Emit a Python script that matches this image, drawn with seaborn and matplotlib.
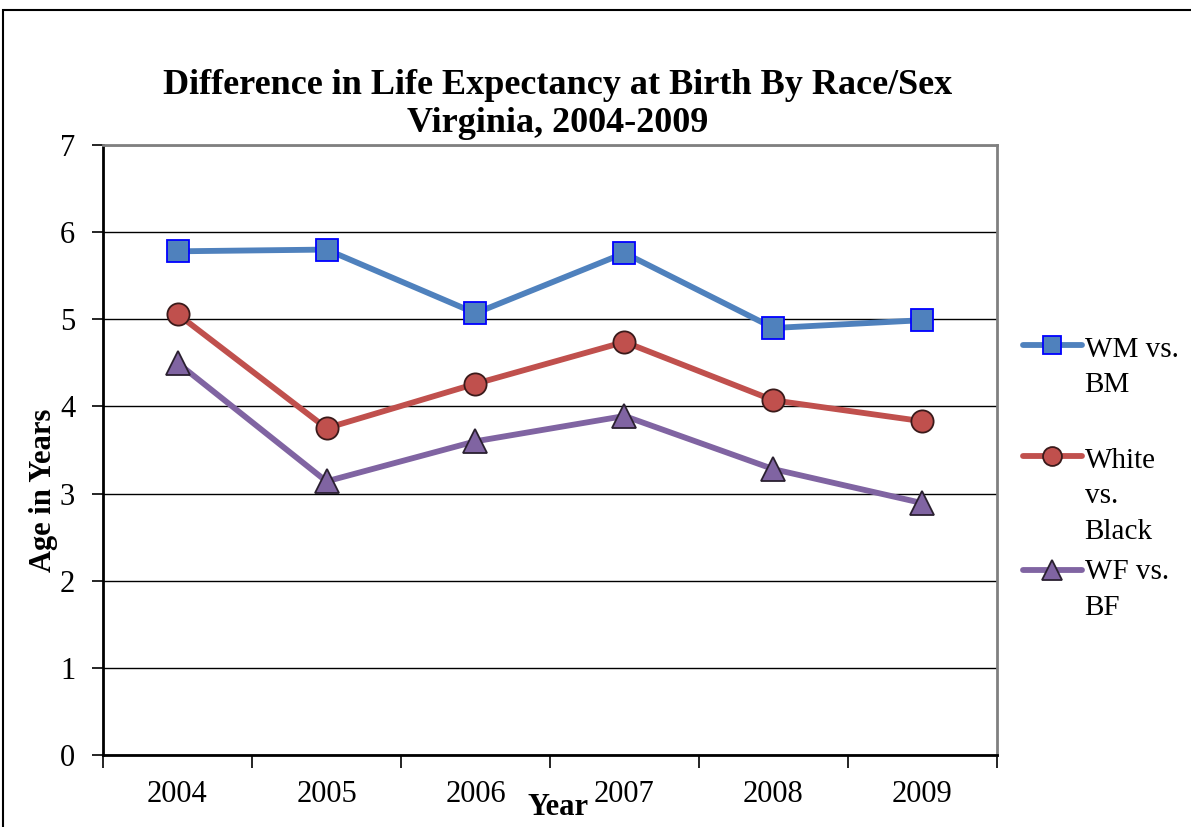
import pandas as pd
import seaborn as sns
import matplotlib.pyplot as plt
from matplotlib.legend_handler import HandlerLine2D

# values
years = ["2004", "2005", "2006", "2007", "2008", "2009"]
wm_bm = [5.78, 5.80, 5.07, 5.76, 4.90, 4.99]
white_black = [5.06, 3.75, 4.26, 4.74, 4.07, 3.83]
wf_bf = [4.50, 3.14, 3.60, 3.89, 3.28, 2.89]
series_names = ["WM vs.\nBM", "White\nvs.\nBlack", "WF vs.\nBF"]

df = pd.DataFrame({
    "pos": list(range(len(years))) * 3,
    "value": wm_bm + white_black + wf_bf,
    "series": [s for s in series_names for _ in years],
})

sns.set_style("white")
plt.rcParams["font.family"] = ["Liberation Serif", "DejaVu Serif"]
plt.rcParams["text.color"] = "black"
plt.rcParams["axes.labelcolor"] = "black"
plt.rcParams["xtick.color"] = "black"
plt.rcParams["ytick.color"] = "black"


class TopHandler(HandlerLine2D):
    # put the legend line next to the first line of a multi-line label
    def __init__(self, shift, **kw):
        super().__init__(**kw)
        self.shift = shift

    def create_artists(self, legend, orig_handle, xdescent, ydescent, width, height, fontsize, trans):
        return super().create_artists(legend, orig_handle, xdescent,
                                      ydescent - 2 * self.shift * fontsize,
                                      width, height, fontsize, trans)


fig = plt.figure(figsize=(11.91, 8.27), dpi=100)
ax = fig.add_axes([103 / 1191, 1 - 755 / 827, (997 - 103) / 1191, (755 - 145) / 827])

colors = ["#4F81BD", "#C0504D", "#8064A2"]
markers = ["s", "o", "^"]
edges = ["#0000FF", "#3a1a1a", "#2a2030"]
msizes = [16, 16, 17]

for name, c, m, e, ms in zip(series_names, colors, markers, edges, msizes):
    sub = df[df["series"] == name]
    sns.lineplot(data=sub, x="pos", y="value", ax=ax, color=c, linewidth=4.2,
                 marker=m, markersize=ms, markerfacecolor=c,
                 markeredgecolor=e, markeredgewidth=1.3, label=name)

ax.set_xlim(-0.5, len(years) - 0.5)
ax.set_ylim(0, 7)
ax.set_yticks(range(0, 8))
ax.yaxis.grid(True, color="black", linewidth=1)
ax.set_axisbelow(True)

# boundary ticks, labels centered between them
ax.set_xticks([i - 0.5 for i in range(len(years) + 1)])
ax.set_xticklabels([])
ax.set_xticks(range(len(years)), minor=True)
ax.set_xticklabels(years, minor=True)
ax.tick_params(axis="x", which="major", length=9, width=1.2, direction="out")
ax.tick_params(axis="x", which="minor", length=0, pad=18, labelsize=22)
ax.tick_params(axis="y", length=8, width=1.2, direction="out", labelsize=22, pad=12)
ax.tick_params(axis="both", bottom=True, left=True)

for side in ["left", "bottom"]:
    ax.spines[side].set_color("black")
    ax.spines[side].set_linewidth(2)
for side in ["top", "right"]:
    ax.spines[side].set_color("#808080")
    ax.spines[side].set_linewidth(2)

ax.set_xlabel("Year", fontsize=22, fontweight="bold")
ax.xaxis.set_label_coords(0.509, -0.063)
ax.set_ylabel("Age in Years", fontsize=22, fontweight="bold")
ax.yaxis.set_label_coords(-0.05, 0.434)

fig.suptitle("Difference in Life Expectancy at Birth By Race/Sex\nVirginia, 2004-2009",
             x=558 / 1191, y=1 - 69 / 827, fontsize=26, fontweight="bold",
             linespacing=1.2)

handles, labels = ax.get_legend_handles_labels()
# first entry gets a blank trailing line so the entries sit like the original
legend_labels = [labels[0] + "\n", labels[1], labels[2]]
shifts = [1.38, 1.38, 0.69]
hmap = {h: TopHandler(s) for h, s in zip(handles, shifts)}
leg = ax.legend(handles, legend_labels, handler_map=hmap, loc="upper left",
                bbox_to_anchor=(1.0164, 0.705), frameon=False,
                fontsize=21, handlelength=2.0, handletextpad=0.1, labelspacing=0.5,
                markerscale=0.85, borderaxespad=0)
for t in leg.get_texts():
    t.set_linespacing(1.47)

# outer chart border
fig.patches.append(plt.Rectangle((3 / 1191, -0.1), 1.2, 1 - 10 / 827 + 0.1,
                                 transform=fig.transFigure, fill=False,
                                 edgecolor="black", linewidth=1.5))

fig.savefig("out.png", dpi=100)
